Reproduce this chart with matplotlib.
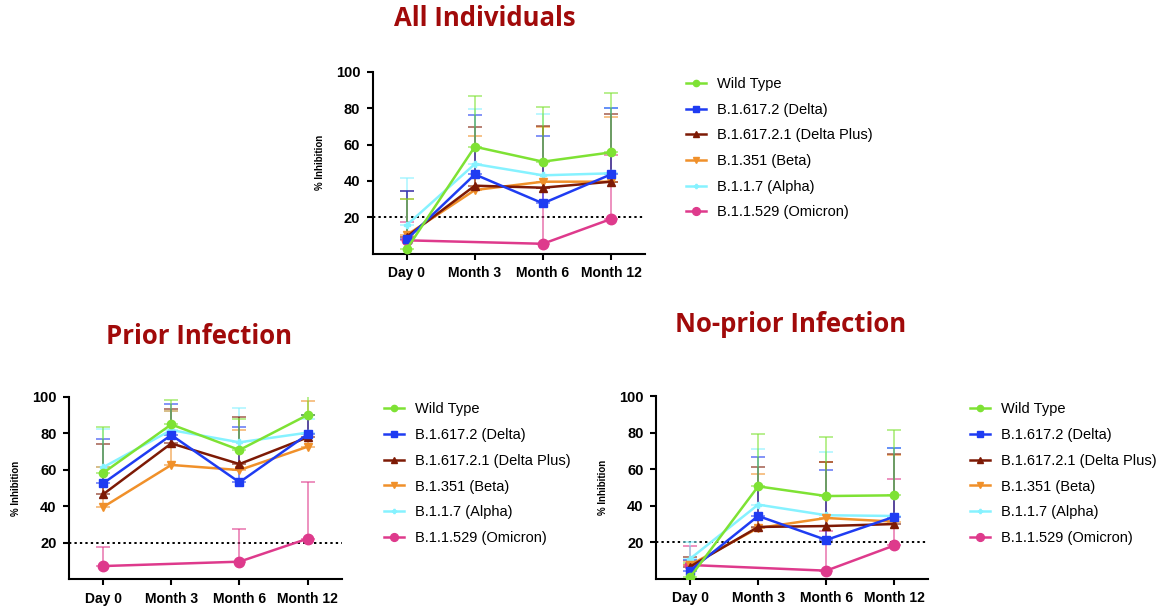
import matplotlib
matplotlib.use("Agg")
import matplotlib.pyplot as plt
import numpy as np

plt.rcParams['font.family'] = ['Liberation Sans', 'DejaVu Sans']

# categories / series
timepoints = ["Day 0", "Month 3", "Month 6", "Month 12"]
variants = ["Wild Type", "B.1.617.2 (Delta)", "B.1.617.2.1 (Delta Plus)",
            "B.1.351 (Beta)", "B.1.1.7 (Alpha)", "B.1.1.529 (Omicron)"]
colors = ["#7ee234", "#1f3cf2", "#7d1a05", "#f0902a", "#86f2ff", "#de3a8c"]
markers = ["o", "s", "^", "v", "P", "o"]
msizes = [6, 6, 5.5, 5.5, 4, 7.5]
nan = np.nan

# All individuals: mean % inhibition and upper SD
all_mean = [
    [2.6, 58.8, 50.6, 55.7],
    [7.9, 43.6, 27.7, 43.6],
    [9.4, 37.4, 36.3, 39.6],
    [10.3, 35.0, 39.6, 39.6],
    [15.8, 49.3, 43.1, 44.2],
    [7.4, nan, 5.5, 19.1],
]
all_sd = [
    [27.4, 28.0, 30.0, 32.6],
    [26.6, 32.4, 36.9, 36.3],
    [25.1, 32.4, 33.9, 37.1],
    [19.6, 29.6, 29.8, 35.4],
    [26.0, 30.4, 33.6, 35.7],
    [9.9, nan, 30.5, 34.9],
]

# Prior infection
prior_mean = [
    [58.2, 84.8, 70.8, 90.0],
    [52.5, 79.0, 53.1, 79.4],
    [46.5, 74.4, 63.1, 77.7],
    [39.5, 62.6, 59.8, 72.6],
    [61.3, 81.7, 75.0, 80.3],
    [7.2, nan, 9.6, 22.2],
]
prior_sd = [
    [25.4, 13.4, 17.2, 10.4],
    [24.5, 16.8, 30.1, 10.6],
    [27.4, 18.7, 25.6, 12.3],
    [21.8, 29.4, 21.9, 25.0],
    [20.8, 10.3, 18.6, 7.7],
    [10.6, nan, 18.1, 31.2],
]

# No-prior infection
noprior_mean = [
    [0.9, 50.6, 45.3, 45.7],
    [4.5, 34.4, 21.3, 34.0],
    [6.7, 28.4, 28.9, 30.0],
    [7.6, 27.8, 33.3, 31.3],
    [11.0, 40.6, 34.8, 34.4],
    [7.6, nan, 4.5, 18.3],
]
noprior_sd = [
    [8.0, 28.6, 32.1, 35.5],
    [5.8, 32.1, 38.1, 37.7],
    [5.4, 32.6, 34.8, 38.3],
    [2.0, 29.7, 30.4, 36.7],
    [9.3, 30.2, 34.4, 37.1],
    [10.4, nan, 21.5, 36.5],
]

title_color = "#a10a0a"


def draw_panel(fig, rect, means, sds, title, title_xy, leg_xy, ylab_x):
    ax = fig.add_axes(rect)
    x = np.arange(len(timepoints))
    handles = []
    n = len(variants)
    for i in range(n):
        m = np.array(means[i], dtype=float)
        s = np.array(sds[i], dtype=float)
        ok = np.isfinite(m)
        z = 10 + (n - i)
        ax.errorbar(x[ok], m[ok], yerr=[np.zeros(ok.sum()), s[ok]], fmt='none',
                    ecolor=colors[i], elinewidth=1.1, capsize=5, capthick=1.1,
                    alpha=0.7, zorder=z - 6)
        h, = ax.plot(x[ok], m[ok], color=colors[i], marker=markers[i],
                     markersize=msizes[i], linewidth=1.8, zorder=z)
        handles.append(h)
    ax.axhline(20, color="black", linestyle=(0, (1.2, 1.6)), linewidth=1.4, zorder=1)
    ax.set_xlim(-0.5, 3.5)
    ax.set_ylim(0, 100)
    ax.set_yticks([20, 40, 60, 80, 100])
    ax.set_xticks(x)
    ax.set_xticklabels(timepoints, fontweight='bold', fontsize=10)
    for lab in ax.get_yticklabels():
        lab.set_fontweight('bold')
        lab.set_fontsize(10.5)
    ax.spines['top'].set_visible(False)
    ax.spines['right'].set_visible(False)
    ax.spines['left'].set_linewidth(1.5)
    ax.spines['bottom'].set_linewidth(1.5)
    ax.tick_params(width=1.5, length=4, pad=5)
    fig.text(ylab_x, rect[1] + rect[3] / 2, "% Inhibition", rotation=90,
             fontsize=7, fontweight='bold', ha='center', va='center')
    fig.text(title_xy[0], title_xy[1], title, color=title_color, fontsize=18.5,
             fontweight='bold', family=['Open Sans', 'DejaVu Sans'],
             ha='center', va='center')
    ax.legend(handles, variants, loc='upper left', bbox_to_anchor=leg_xy,
              bbox_transform=fig.transFigure, frameon=False, fontsize=10.5,
              handlelength=1.4, handletextpad=0.7, labelspacing=0.8,
              borderpad=0, borderaxespad=0, markerscale=0.75)
    return ax


W, H = 1159, 607
fig = plt.figure(figsize=(W / 100, H / 100), dpi=100)


def px_rect(x0, x1, ytop, ybot):
    return [x0 / W, 1 - ybot / H, (x1 - x0) / W, (ybot - ytop) / H]


draw_panel(fig, px_rect(372.7, 645, 71.7, 253.8), all_mean, all_sd,
           "All Individuals", (485 / W, 1 - 19 / H), (686 / W, 1 - 77 / H), 320 / W)
draw_panel(fig, px_rect(69, 341.7, 396.7, 579.2), prior_mean, prior_sd,
           "Prior Infection", (199 / W, 1 - 336 / H), (384 / W, 1 - 402.5 / H), 16 / W)
draw_panel(fig, px_rect(656, 928.4, 396, 578.9), noprior_mean, noprior_sd,
           "No-prior Infection", (791 / W, 1 - 325 / H), (970 / W, 1 - 402.5 / H), 603 / W)

fig.savefig("out.png", dpi=100)
